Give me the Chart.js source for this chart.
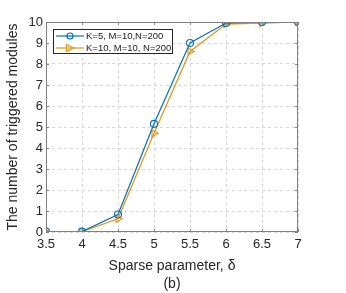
<!DOCTYPE html>
<html>
<head>
<meta charset="utf-8">
<script src="https://cdn.jsdelivr.net/npm/chart.js@4/dist/chart.umd.min.js"></script>
<style>
  html, body { margin: 0; padding: 0; background: #fff; }
  #wrap { width: 346px; height: 293px; }
</style>
</head>
<body>
<div id="wrap"><canvas id="LineChart" width="346" height="293"></canvas></div>
<script>
// values
const deltas = [3.5, 4, 4.5, 5, 5.5, 6, 6.5, 7];
const k5 = [0.02, 0.02, 0.83, 5.15, 9.0, 9.95, 10.0, 10.0];
const k10 = [0.0, 0.02, 0.63, 4.7, 8.6, 9.9, 9.95, 10.0];
const seriesNames = ['K=5, M=10,N=200', 'K=10, M=10, N=200'];
const xTicks = [3.5, 4, 4.5, 5, 5.5, 6, 6.5, 7];
const yTicks = [0, 1, 2, 3, 4, 5, 6, 7, 8, 9, 10];

const blue = '#0072BD';
const orange = '#E8900F';
const axisGray = '#262626';
const font = 'Helvetica, Arial, "Liberation Sans", sans-serif';

// box, inner ticks and legend like matlab
const matlabBox = {
    id: 'matlabBox',
    afterDraw(chart) {
        const ctx = chart.ctx;
        const a = chart.chartArea;
        const xs = chart.scales.x, ys = chart.scales.y;
        ctx.save();
        ctx.strokeStyle = '#808080';
        ctx.lineWidth = 1;
        ctx.strokeRect(a.left + 0.5, a.top + 0.5, a.right - a.left - 1, a.bottom - a.top - 1);
        ctx.beginPath();
        xTicks.forEach(v => {
            const px = Math.round(xs.getPixelForValue(v)) + 0.5;
            ctx.moveTo(px, a.bottom); ctx.lineTo(px, a.bottom - 3);
            ctx.moveTo(px, a.top); ctx.lineTo(px, a.top + 3);
        });
        yTicks.forEach(v => {
            const py = Math.round(ys.getPixelForValue(v)) + 0.5;
            ctx.moveTo(a.left, py); ctx.lineTo(a.left + 3, py);
            ctx.moveTo(a.right, py); ctx.lineTo(a.right - 3, py);
        });
        ctx.stroke();

        // legend
        const lx = 53.5, ly = 29.5, lw = 119, lh = 24;
        ctx.fillStyle = '#fff';
        ctx.fillRect(lx, ly, lw, lh);
        ctx.strokeStyle = '#262626';
        ctx.strokeRect(lx, ly, lw, lh);
        const rows = [
            { y: 36, c: blue, name: seriesNames[0], mark: 'circle' },
            { y: 48, c: orange, name: seriesNames[1], mark: 'tri' }
        ];
        rows.forEach(r => {
            ctx.strokeStyle = r.c;
            ctx.lineWidth = 1.2;
            ctx.beginPath();
            ctx.moveTo(56, r.y); ctx.lineTo(84, r.y);
            ctx.stroke();
            ctx.beginPath();
            if (r.mark === 'circle') {
                ctx.arc(70, r.y, 3, 0, Math.PI * 2);
            } else {
                ctx.moveTo(66.5, r.y - 3.5); ctx.lineTo(73.5, r.y); ctx.lineTo(66.5, r.y + 3.5); ctx.closePath();
            }
            ctx.stroke();
            ctx.fillStyle = '#1a1a1a';
            ctx.font = '9.5px ' + font;
            ctx.textBaseline = 'middle';
            ctx.fillText(r.name, 86, r.y + 0.5);
        });
        ctx.restore();
    }
};

new Chart(document.getElementById('LineChart'), {
    type: 'line',
    data: {
        datasets: [
            {
                label: seriesNames[0],
                data: deltas.map((d, i) => ({ x: d, y: k5[i] })),
                borderColor: blue,
                backgroundColor: 'rgba(0,0,0,0)',
                borderWidth: 1.2,
                pointStyle: 'circle',
                pointRadius: 3.5,
                pointBorderWidth: 1.1,
                pointBorderColor: blue,
                pointBackgroundColor: 'rgba(0,0,0,0)',
                tension: 0
            },
            {
                label: seriesNames[1],
                data: deltas.map((d, i) => ({ x: d, y: k10[i] })),
                borderColor: orange,
                backgroundColor: 'rgba(0,0,0,0)',
                borderWidth: 1.2,
                pointStyle: 'triangle',
                pointRotation: 90,
                pointRadius: 4,
                pointBorderWidth: 1.1,
                pointBorderColor: orange,
                pointBackgroundColor: 'rgba(0,0,0,0)',
                tension: 0
            }
        ]
    },
    options: {
        responsive: false,
        animation: false,
        layout: { padding: { left: 5, top: 22, right: 48, bottom: 0 } },
        plugins: { legend: { display: false }, tooltip: { enabled: false } },
        scales: {
            x: {
                type: 'linear',
                min: 3.5, max: 7,
                afterBuildTicks: s => { s.ticks = xTicks.map(v => ({ value: v })); },
                afterFit: s => { s.height = 61; },
                ticks: {
                    color: axisGray, font: { size: 13, family: font }, padding: 5,
                    maxRotation: 0, autoSkip: false,
                    callback: v => String(v)
                },
                grid: { color: '#d6d6d6', tickLength: 0, drawTicks: false },
                border: { display: false, dash: [3, 3] },
                title: {
                    display: true,
                    text: ['Sparse parameter, δ', '(b)'],
                    color: axisGray,
                    font: { size: 14, family: font, lineHeight: 1.3 },
                    padding: { top: 0, bottom: 0 }
                }
            },
            y: {
                type: 'linear',
                min: 0, max: 10,
                afterBuildTicks: s => { s.ticks = yTicks.map(v => ({ value: v })); },
                afterFit: s => { s.width = 41; },
                ticks: {
                    color: axisGray, font: { size: 13, family: font }, padding: 3,
                    callback: v => String(v)
                },
                grid: { color: '#d6d6d6', tickLength: 0, drawTicks: false },
                border: { display: false, dash: [3, 3] },
                title: {
                    display: true,
                    text: 'The number of triggered modules',
                    color: axisGray,
                    font: { size: 14, family: font },
                    padding: { top: 0, bottom: 0 }
                }
            }
        }
    },
    plugins: [matlabBox]
});
</script>
</body>
</html>
